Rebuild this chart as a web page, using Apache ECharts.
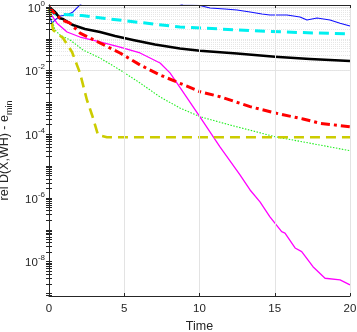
<!DOCTYPE html>
<html><head><meta charset="utf-8">
<script src="https://cdn.jsdelivr.net/npm/echarts@6/dist/echarts.min.js"></script>
<style>html,body{margin:0;padding:0;background:#fff}#c{width:357px;height:332px}</style>
</head><body><div id="c"></div>
<script>
// ---- data ----
const xTicks = [0, 5, 10, 15, 20];
const yTickValues = [1, 1e-2, 1e-4, 1e-6, 1e-8];
const yMin = 8.3e-10, yMax = 1.156;

const blueT = [0, 0.07, 0.2, 0.4, 0.73, 1.2, 1.59, 2.06, 2.4, 3, 5, 7, 8.5, 8.9, 10.03, 10.7, 11.69, 12.49, 13.36, 14.15, 14.68, 15.81, 16.68, 17.14, 17.81, 18.67, 19.34, 20];
const blueV = [1.0, 0.45, 0.31, 0.39, 0.52, 0.56, 0.70, 1.16, 1.6, 2.5, 3.5, 2.5, 1.4, 1.16, 1.11, 0.93, 0.865, 0.805, 0.70, 0.60, 0.56, 0.56, 0.485, 0.39, 0.45, 0.39, 0.31, 0.253];

const cyanT = [0, 0.4, 2.19, 4.05, 6.05, 8.70, 11.36, 14.02, 16.68, 20];
const cyanV = [0.805, 0.60, 0.54, 0.42, 0.326, 0.235, 0.204, 0.176, 0.158, 0.142];

const blackT = [0, 0.4, 0.73, 0.93, 1.59, 2.39, 3.39, 4.39, 5.58, 7.04, 8.70, 10.03, 12.49, 15.02, 17.34, 20];
const blackV = [1.0, 0.70, 0.44, 0.42, 0.27, 0.204, 0.164, 0.123, 0.092, 0.066, 0.0497, 0.0424, 0.0346, 0.0275, 0.0232, 0.0201];

const redT = [0, 0.4, 0.86, 1.40, 2.06, 2.72, 3.39, 4.72, 6.05, 7.38, 8.70, 10.03, 11.36, 13.36, 15.02, 16.88, 18.0, 20];
const redV = [1.0, 0.60, 0.39, 0.31, 0.152, 0.106, 0.074, 0.0359, 0.0151, 0.0073, 0.0040, 0.00218, 0.00152, 0.00074, 0.000468, 0.000303, 0.000222, 0.000173];

const greenT = [0, 0.2, 0.40, 0.73, 1.40, 2.26, 3.39, 4.72, 6.05, 7.38, 8.70, 10.03, 12.03, 15.02, 18.0, 20];
const greenV = [1.0, 0.39, 0.19, 0.132, 0.092, 0.0446, 0.025, 0.0105, 0.0041, 0.00149, 0.00067, 0.000358, 0.000196, 0.000084, 0.000046, 0.0000305];

const magentaT = [0, 0.07, 0.53, 1.20, 2.06, 3.39, 4.72, 6.05, 7.38, 8.04, 8.70, 10.03, 11.36, 12.69, 13.36, 14.02, 14.68, 15.46, 15.68, 16.35, 16.79, 17.54, 18.34, 19.34, 20];
const magentaV = [1.0, 0.65, 0.31, 0.164, 0.114, 0.080, 0.0553, 0.0359, 0.0174, 0.0085, 0.0030, 0.00035, 4.0e-5, 5.3e-6, 1.78e-6, 7.5e-7, 2.53e-7, 8.7e-8, 7.9e-8, 2.68e-8, 2.05e-8, 6.9e-9, 3.0e-9, 2.65e-9, 1.85e-9];

const yellowT = [0, 0.27, 0.93, 1.53, 2.06, 2.52, 2.86, 3.26, 3.85, 20];
const yellowV = [1.0, 0.19, 0.106, 0.0386, 0.0084, 0.0012, 0.000405, 9.5e-5, 8.1e-5, 8.1e-5];

// ---- build ----
const pairs = (t, v) => t.map((x, i) => [x, v[i]]);
const minorVals = [];
for (let n = -10; n <= 0; n++) {
  for (let k = 1; k <= 9; k++) {
    const v = k * Math.pow(10, n);
    if (v < yMin || v > yMax) continue;
    if (k === 1 && n % 2 === 0) continue;
    minorVals.push(v);
  }
}
const allTickVals = yTickValues.concat(minorVals);
const txt = '#262626';
const font = "'Liberation Sans', Arial, Helvetica, sans-serif";

const supLabel = {
  formatter: v => '{b|10}{s|' + Math.round(Math.log10(v)) + '}',
  rich: {
    b: { fontSize: 11.5, fontFamily: font, color: txt, lineHeight: 12, verticalAlign: 'bottom' },
    s: { fontSize: 8, fontFamily: font, color: txt, lineHeight: 15, verticalAlign: 'top' }
  }
};

function lineSeries(t, v, color, width, type, z) {
  return {
    type: 'line', data: pairs(t, v), showSymbol: false, symbol: 'none', clip: true, z: z || 3,
    lineStyle: { color: color, width: width, type: type || 'solid', cap: 'butt', join: 'round' },
    animation: false
  };
}

const option = {
  animation: false,
  backgroundColor: '#fff',
  grid: { left: 49, top: 5, width: 301, height: 291, containLabel: false, outerBoundsMode: 'none' },
  xAxis: [{
    type: 'value', min: 0, max: 20, interval: 5, position: 'bottom', z: 10,
    name: 'Time', nameLocation: 'middle', nameGap: 22,
    nameTextStyle: { fontSize: 12.5, fontFamily: font, color: txt },
    axisLine: { show: true, lineStyle: { color: txt, width: 1 } },
    axisTick: { show: true, inside: true, length: 3, lineStyle: { color: txt } },
    axisLabel: { fontSize: 11.5, fontFamily: font, color: txt, margin: 7, formatter: v => String(v) },
    splitLine: { show: true, lineStyle: { color: '#e3e3e3', width: 1 } }
  }, {
    type: 'value', min: 0, max: 20, interval: 5, position: 'top', z: 10,
    axisLine: { show: true, onZero: false, lineStyle: { color: txt, width: 1 } },
    axisTick: { show: true, inside: true, length: 3, lineStyle: { color: txt } },
    axisLabel: { show: false }, splitLine: { show: false }
  }],
  yAxis: [{
    type: 'log', logBase: 10, min: yMin, max: yMax, position: 'left', z: 10,
    name: '{a|rel D(X,WH) - e}{sub|min}', nameLocation: 'middle', nameGap: 32, nameRotate: 90,
    nameTextStyle: {
      rich: {
        a: { fontSize: 12.5, fontFamily: font, color: txt, lineHeight: 20, verticalAlign: 'middle' },
        sub: { fontSize: 9, fontFamily: font, color: txt, lineHeight: 10, verticalAlign: 'bottom' }
      }
    },
    axisLine: { show: true, lineStyle: { color: txt, width: 1 } },
    axisTick: { show: true, inside: true, length: 3, customValues: allTickVals, lineStyle: { color: txt } },
    axisLabel: Object.assign({ margin: 4, customValues: yTickValues }, supLabel),
    splitLine: { show: false }, minorTick: { show: false }
  }, {
    type: 'log', logBase: 10, min: yMin, max: yMax, position: 'right', z: 10,
    axisLine: { show: true, lineStyle: { color: txt, width: 1 } },
    axisTick: { show: true, inside: true, length: 3, customValues: allTickVals, lineStyle: { color: txt } },
    axisLabel: { show: false }, splitLine: { show: false }
  }],
  series: [
    {
      type: 'line', data: [], xAxisIndex: 0, yAxisIndex: 0, z: 1,
      markLine: {
        silent: true, symbol: 'none', z: 1, animation: false,
        label: { show: false },
        data: yTickValues.map(v => ({ yAxis: v, lineStyle: { color: '#e3e3e3', width: 1, type: 'solid' } }))
          .concat(minorVals.map(v => ({ yAxis: v, lineStyle: { color: '#e6e6e6', width: 1, type: [1, 1] } })))
      }
    },
    lineSeries(blueT, blueV, '#1010ff', 1.1, 'solid', 3),
    lineSeries(cyanT, cyanV, '#00f0f0', 3, [10, 6], 4),
    lineSeries(blackT, blackV, '#000000', 2.6, 'solid', 4),
    lineSeries(redT, redV, '#ff0000', 3, [9, 4, 3, 4], 5),
    lineSeries(greenT, greenV, '#22ee22', 1.1, [1.5, 1.5], 4),
    lineSeries(magentaT, magentaV, '#ff00ff', 1.3, 'solid', 4),
    lineSeries(yellowT, yellowV, '#cccc00', 2.6, [10, 6], 4)
  ]
};
echarts.init(document.getElementById('c'), null, { renderer: 'canvas' }).setOption(option);
</script>
</body></html>
